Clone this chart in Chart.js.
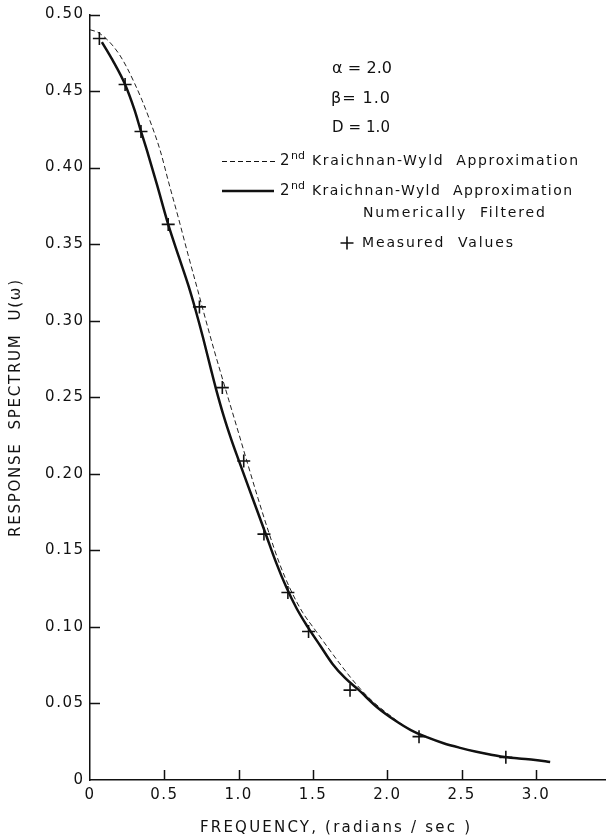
<!DOCTYPE html>
<html>
<head>
<meta charset="utf-8">
<title>Response spectrum</title>
<script src="https://cdn.jsdelivr.net/npm/chart.js@4.4.1/dist/chart.umd.min.js"></script>
<style>
  html, body { margin: 0; padding: 0; background: #fff; }
  canvas { display: block; }
</style>
</head>
<body>
<canvas id="spectrum" width="614" height="839"></canvas>
<script>
// Measured response spectrum U(ω)
const measuredFreq = [0.063, 0.236, 0.343, 0.526, 0.736, 0.890, 1.034, 1.170, 1.331, 1.470, 1.749, 2.213, 2.797];
const measuredU    = [0.4843, 0.4543, 0.4236, 0.3629, 0.3090, 0.2563, 0.2084, 0.1606, 0.1225, 0.0970, 0.0587, 0.0283, 0.0148];

// 2nd Kraichnan-Wyld approximation
const kwFreq = [0.00, 0.05, 0.10, 0.15, 0.20, 0.25, 0.30, 0.35, 0.40, 0.472, 0.53, 0.593, 0.66, 0.725, 0.78, 0.835,
                0.934, 1.00, 1.056, 1.13, 1.21, 1.28, 1.353, 1.43, 1.518, 1.60, 1.70, 1.80, 1.90, 2.00, 2.158,
                2.378, 2.599, 2.775, 2.995, 3.095];
const kwU    = [0.490, 0.4885, 0.485, 0.480, 0.4735, 0.465, 0.455, 0.444, 0.4315, 0.4112, 0.390, 0.3677, 0.343, 0.3198, 0.300, 0.2807,
                0.2480, 0.2265, 0.2080, 0.184, 0.1595, 0.140, 0.1235, 0.1095, 0.0975, 0.0865, 0.0735, 0.0615, 0.0515, 0.0435, 0.0326,
                0.0240, 0.0185, 0.0152, 0.0131, 0.0118];

// 2nd Kraichnan-Wyld approximation, numerically filtered
const filteredFreq = [0.08, 0.15, 0.236, 0.30, 0.343, 0.383, 0.45, 0.526, 0.60, 0.66, 0.71, 0.76, 0.813, 0.846, 0.90,
                      0.95, 1.00, 1.09, 1.177, 1.25, 1.32, 1.39, 1.464, 1.55, 1.63, 1.717, 1.805, 1.937, 2.05, 2.158,
                      2.27, 2.378, 2.49, 2.599, 2.69, 2.775, 2.885, 2.995, 3.095];
const filteredU    = [0.482, 0.4705, 0.4543, 0.4375, 0.4236, 0.4112, 0.389, 0.3629, 0.341, 0.3235, 0.307, 0.289, 0.2685, 0.256, 0.2375,
                      0.2225, 0.2089, 0.185, 0.162, 0.1425, 0.126, 0.112, 0.100, 0.0875, 0.0760, 0.0665, 0.0590, 0.0470, 0.0390, 0.0326,
                      0.0278, 0.0240, 0.0210, 0.0185, 0.0167, 0.0152, 0.0141, 0.0131, 0.0118];

const xTickValues = [0, 0.5, 1.0, 1.5, 2.0, 2.5, 3.0];
const yTickValues = [0, 0.05, 0.10, 0.15, 0.20, 0.25, 0.30, 0.35, 0.40, 0.45, 0.50];

const parameterLines = ['α = 2.0', 'β= 1.0', 'D = 1.0'];
const seriesName = 'Kraichnan-Wyld  Approximation';
const filteredNote = 'Numerically  Filtered';
const measuredName = 'Measured  Values';
const xTitle = 'FREQUENCY, (radians / sec )';
const yTitle = 'RESPONSE  SPECTRUM  U(ω)';

const INK = '#111';
const FONT = '"DejaVu Sans", sans-serif';

const toPoints = (xs, ys) => xs.map((x, i) => ({ x, y: ys[i] }));

// Writes text so that it spans a given width, spreading the letters evenly.
function spread(ctx, text, x, y, width) {
  ctx.letterSpacing = '0px';
  const natural = ctx.measureText(text).width;
  const n = [...text].length;
  const gap = n > 1 ? (width - natural) / (n - 1) : 0;
  ctx.letterSpacing = gap + 'px';
  ctx.textAlign = 'left';
  ctx.fillText(text, x, y);
  ctx.letterSpacing = '0px';
}

const lettering = {
  id: 'lettering',
  beforeDraw(chart) {
    chart.ctx.letterSpacing = '1.5px';
  },
  afterDraw(chart) {
    const ctx = chart.ctx;
    const xs = chart.scales.x, ys = chart.scales.y;
    ctx.save();
    ctx.letterSpacing = '0px';

    // inward tick marks
    ctx.strokeStyle = INK;
    ctx.lineWidth = 1.5;
    ctx.beginPath();
    yTickValues.forEach(v => {
      if (v === 0) return;
      const py = Math.round(ys.getPixelForValue(v)) + 0.5;
      ctx.moveTo(xs.left, py);
      ctx.lineTo(xs.left + 10, py);
    });
    xTickValues.forEach(v => {
      if (v === 0) return;
      const px = Math.round(xs.getPixelForValue(v)) + 0.5;
      ctx.moveTo(px, ys.bottom);
      ctx.lineTo(px, ys.bottom - 10);
    });
    ctx.stroke();

    ctx.fillStyle = INK;
    ctx.textBaseline = 'middle';

    // axis titles
    ctx.font = '15px ' + FONT;
    spread(ctx, xTitle, 200, 828, 270);
    ctx.save();
    ctx.translate(16, 537);
    ctx.rotate(-Math.PI / 2);
    spread(ctx, yTitle, 0, 0, 257);
    ctx.restore();

    // model parameters
    ctx.font = '16px ' + FONT;
    spread(ctx, parameterLines[0], 332, 69, 60);
    ctx.font = '16px ' + FONT;
    spread(ctx, parameterLines[1], 331, 99, 59);
    ctx.font = '15px ' + FONT;
    spread(ctx, parameterLines[2], 332, 128, 58);

    // key: dashed curve
    ctx.lineWidth = 1;
    ctx.setLineDash([5, 3]);
    ctx.beginPath();
    ctx.moveTo(222, 161.5);
    ctx.lineTo(275, 161.5);
    ctx.stroke();
    ctx.setLineDash([]);
    // key: solid curve
    ctx.lineWidth = 2.5;
    ctx.beginPath();
    ctx.moveTo(222, 191);
    ctx.lineTo(274, 191);
    ctx.stroke();

    const keyRows = [[161, 578], [191, 572]];
    keyRows.forEach(([ry, right]) => {
      ctx.font = '15px ' + FONT;
      ctx.textAlign = 'left';
      ctx.fillText('2', 280, ry);
      ctx.font = '11px ' + FONT;
      ctx.fillText('nd', 291, ry - 5);
      ctx.font = '14px ' + FONT;
      spread(ctx, seriesName, 312, ry, right - 312);
    });
    ctx.font = '14px ' + FONT;
    spread(ctx, filteredNote, 363, 213, 182);

    // key: measured marker
    ctx.lineWidth = 1.6;
    Chart.helpers.drawPoint(ctx, { pointStyle: 'cross', radius: 6.5, rotation: 0, borderWidth: 1.6 }, 347, 243);
    ctx.font = '14px ' + FONT;
    spread(ctx, measuredName, 362, 243, 151);

    ctx.restore();
  }
};

new Chart(document.getElementById('spectrum'), {
  type: 'scatter',
  data: {
    datasets: [
      {
        label: 'Measured Values',
        data: toPoints(measuredFreq, measuredU),
        showLine: false,
        pointStyle: 'cross',
        pointRadius: 6.5,
        pointBorderWidth: 1.6,
        borderColor: INK,
        backgroundColor: INK
      },
      {
        label: '2nd Kraichnan-Wyld Approximation Numerically Filtered',
        data: toPoints(filteredFreq, filteredU),
        showLine: true,
        borderColor: INK,
        borderWidth: 2.5,
        pointRadius: 0,
        cubicInterpolationMode: 'monotone'
      },
      {
        label: '2nd Kraichnan-Wyld Approximation',
        data: toPoints(kwFreq, kwU),
        showLine: true,
        borderColor: '#222',
        borderWidth: 1,
        borderDash: [5, 3],
        pointRadius: 0,
        cubicInterpolationMode: 'monotone'
      }
    ]
  },
  options: {
    responsive: false,
    animation: false,
    devicePixelRatio: 1,
    layout: { padding: { top: 14, right: 0, bottom: 0, left: 0 } },
    plugins: { legend: { display: false }, tooltip: { enabled: false } },
    scales: {
      x: {
        type: 'linear',
        min: 0,
        max: 3.47,
        afterFit: s => { s.height = 59; },
        afterBuildTicks: s => { s.ticks = xTickValues.map(v => ({ value: v })); },
        ticks: {
          autoSkip: false,
          maxRotation: 0,
          padding: 6,
          color: INK,
          font: { family: FONT, size: 15 },
          callback: v => (v === 0 ? '0' : v.toFixed(1))
        },
        grid: { display: false, drawTicks: false },
        border: { display: true, color: INK, width: 1.5 }
      },
      y: {
        min: 0,
        max: 0.5,
        afterFit: s => { s.width = 90; },
        afterBuildTicks: s => { s.ticks = yTickValues.map(v => ({ value: v })); },
        ticks: {
          autoSkip: false,
          padding: 5.5,
          color: INK,
          font: { family: FONT, size: 15 },
          callback: v => (v === 0 ? '0' : v.toFixed(2))
        },
        grid: { display: false, drawTicks: false },
        border: { display: true, color: INK, width: 1.5 }
      }
    }
  },
  plugins: [lettering]
});
</script>
</body>
</html>
